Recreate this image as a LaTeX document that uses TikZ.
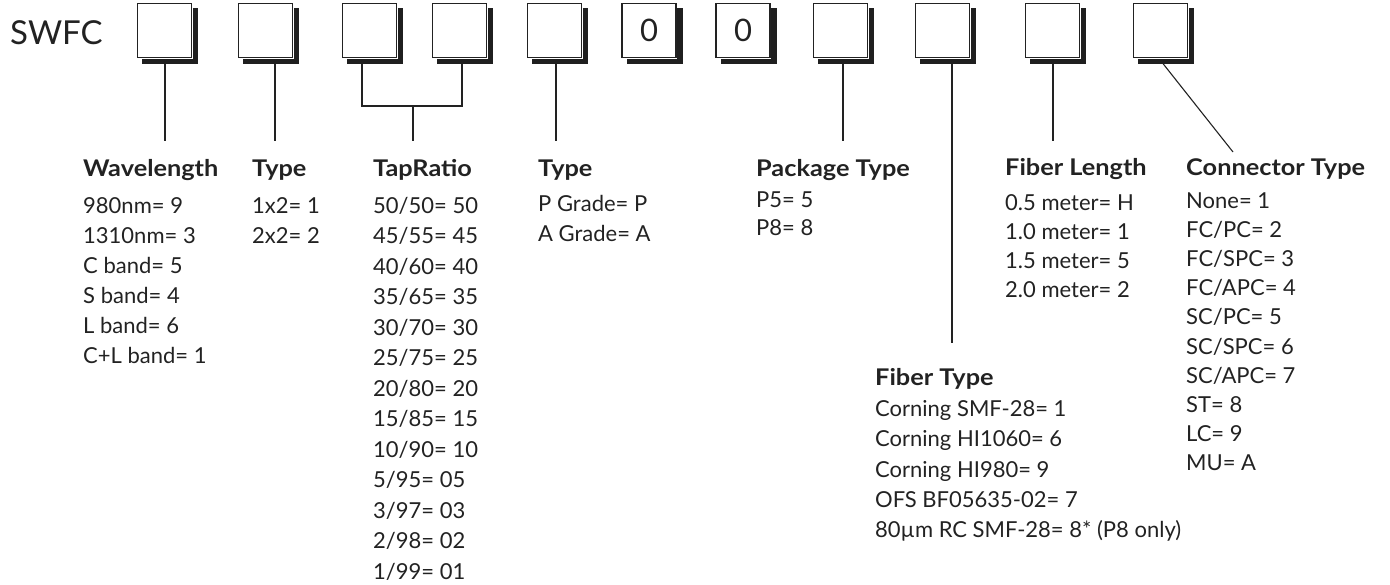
\documentclass[tikz,border=0pt]{standalone}
\usepackage{fontspec}
\setmainfont{Lato}
\newfontfamily\headfont{Lato}[FakeStretch=1.1]
\definecolor{ink}{HTML}{222222}
\tikzset{
  digitbox/.style={draw=ink, line width=1.2pt, fill=white, minimum size=54pt, inner sep=0pt,
    font=\fontsize{31}{31}\selectfont, text=ink},
  shadowline/.style={draw=black!88, line width=5.5pt, miter limit=10, line join=miter},
  leader/.style={draw=ink, line width=1.1pt},
  head/.style={anchor=base west, inner sep=0pt, text=ink, font=\headfont\fontsize{23}{23}\selectfont\bfseries},
  row/.style={anchor=base west, inner sep=0pt, text=ink, font=\fontsize{22}{22}\selectfont},
  title/.style={anchor=west, inner sep=0pt, text=ink, font=\fontsize{33}{33}\selectfont},
}
\begin{document}
\begin{tikzpicture}[x=1pt, y=-1pt]
\useasboundingbox (0,0) rectangle (1390,584);
\node[title] (swfc) at (10,33) {SWFC};
% boxes
\node[digitbox] (b1) at (164.5,30.5) {};
\node[digitbox] (b2) at (265.5,30.5) {};
\node[digitbox] (b3) at (369.5,30.5) {};
\node[digitbox] (b4) at (459.5,30.5) {};
\node[digitbox] (b5) at (554.5,30.5) {};
\node[digitbox] (b6) at (649,30.5) {0};
\node[digitbox] (b7) at (743,30.5) {0};
\node[digitbox] (b8) at (840.5,30.5) {};
\node[digitbox] (b9) at (942.5,30.5) {};
\node[digitbox] (b10) at (1052.5,30.5) {};
\node[digitbox] (b11) at (1160.5,30.5) {};
% offset shadows (right and bottom edges)
\foreach \k in {1,...,11}
  \draw[shadowline] ([xshift=3.35pt,yshift=-5.5pt]b\k.north east) -- ([xshift=3.35pt,yshift=-3.35pt]b\k.south east) -- ([xshift=5.5pt,yshift=-3.35pt]b\k.south west);
% leader end points
\coordinate (bot) at (0,63.6);
\coordinate (e1) at (165,141);
\coordinate (e2) at (275,141);
\coordinate (j3) at (362,106);
\coordinate (j4) at (462,106);
\coordinate (e34) at (413,141);
\coordinate (e5) at (556,141);
\coordinate (e8) at (843,141);
\coordinate (e9) at (952,343);
\coordinate (e10) at (1053,141);
\coordinate (s11) at (1163,63.6);
\coordinate (e11) at (1233,152);
\draw[leader] (e1 |- bot) -- (e1);
\draw[leader] (e2 |- bot) -- (e2);
\draw[leader] (j3 |- bot) -- (j3) -- (j4) -- (j4 |- bot);
\draw[leader] (e34 |- j3) -- (e34);
\draw[leader] (e5 |- bot) -- (e5);
\draw[leader] (e8 |- bot) -- (e8);
\draw[leader] (e9 |- bot) -- (e9);
\draw[leader] (e10 |- bot) -- (e10);
\draw[leader] (s11) -- (e11);
% headers
\node[head] (h1) at (83,176) {Wavelength};
\node[head] (h2) at (252,176) {Type};
\node[head] (h3) at (373,176) {TapRatio};
\node[head] (h4) at (538,176) {Type};
\node[head] (h5) at (756,176) {Package Type};
\node[head] (h6) at (875,385.5) {Fiber Type};
\node[head] (h7) at (1005,175.5) {Fiber Length};
\node[head] (h8) at (1186,175.5) {Connector Type};
% rows
\foreach \t [count=\i from 0] in {980nm= 9, 1310nm= 3, C band= 5, S band= 4, L band= 6, C+L band= 1}
  \node[row] (w\i) at (83,213+30*\i) {\t};
\foreach \t [count=\i from 0] in {1x2= 1, 2x2= 2}
  \node[row] (ty\i) at (252,213+30*\i) {\t};
\foreach \t [count=\i from 0] in {50/50= 50, 45/55= 45, 40/60= 40, 35/65= 35, 30/70= 30, 25/75= 25, 20/80= 20, 15/85= 15, 10/90= 10, 5/95= 05, 3/97= 03, 2/98= 02, 1/99= 01}
  \node[row] (tr\i) at (373,213+30.5*\i) {\t};
\foreach \t [count=\i from 0] in {P Grade= P, A Grade= A}
  \node[row] (g\i) at (538,211+30*\i) {\t};
\foreach \t [count=\i from 0] in {P5= 5, P8= 8}
  \node[row] (p\i) at (756,207+28.5*\i) {\t};
\foreach \t [count=\i from 0] in {Corning SMF-28= 1, Corning HI1060= 6, Corning HI980= 9, OFS BF05635-02= 7, 80µm RC SMF-28= 8* (P8 only)}
  \node[row] (f\i) at (875,416.5+30.3*\i) {\t};
\foreach \t [count=\i from 0] in {0.5 meter= H, 1.0 meter= 1, 1.5 meter= 5, 2.0 meter= 2}
  \node[row] (l\i) at (1005,210+29*\i) {\t};
\foreach \t [count=\i from 0] in {None= 1, FC/PC= 2, FC/SPC= 3, FC/APC= 4, SC/PC= 5, SC/SPC= 6, SC/APC= 7, ST= 8, LC= 9, MU= A}
  \node[row] (c\i) at (1186,208+29.2*\i) {\t};
\end{tikzpicture}
\end{document}
